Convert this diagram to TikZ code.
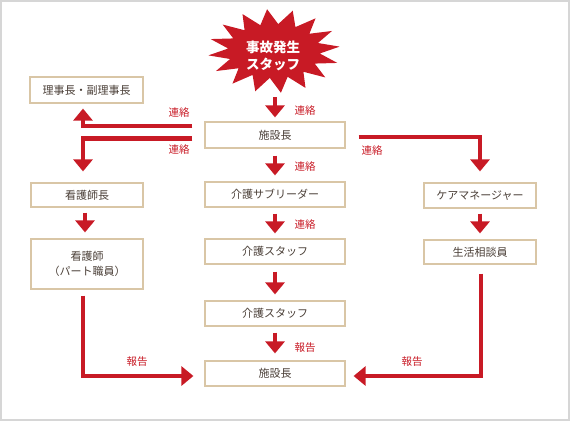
\documentclass[tikz,border=0pt]{standalone}
\usepackage{fontspec}
\setmainfont{Noto Sans CJK JP}
\usetikzlibrary{arrows.meta,calc}
\definecolor{acc}{HTML}{C81A25}
\definecolor{boxline}{HTML}{D9C6A6}
\definecolor{boxtext}{HTML}{4B4038}
\definecolor{frame}{HTML}{D6D6D6}
\tikzset{
  box/.style={draw=boxline, line width=1.2pt, fill=white, inner sep=0pt, text=boxtext,
    font=\fontsize{11}{15}\selectfont, align=center},
  arr/.style={draw=acc, line width=4.5pt, line join=miter, -{Triangle[width=19pt,length=12pt]}},
  lbl/.style={text=acc, font=\fontsize{10.5}{12}\selectfont, inner sep=0pt},
  startext/.style={text=white, font=\bfseries\fontsize{13.5}{16.5}\selectfont, align=center, inner sep=0pt}
}
\begin{document}
\begin{tikzpicture}[x=1pt,y=-1pt]
\useasboundingbox (0,0) rectangle (570,421);
\draw[frame, line width=2pt] (1,1) rectangle (569,420);

% burst
\fill[acc] plot[samples at={0,...,31}, variable=\k]
  ({274+ifthenelse(mod(\k,2)==0,66,46)*cos(\k*11.25+6)},
   {51-ifthenelse(mod(\k,2)==0,42,27)*sin(\k*11.25+6)}) -- cycle;
\node[startext] (star) at (273,56) {事故発生\\スタッフ};
\coordinate (starbot) at (275,97);

% boxes
\node[box, minimum width=113pt, minimum height=26pt] (rij) at (86.5,90) {理事長・副理事長};
\node[box, minimum width=140pt, minimum height=26pt] (top) at (275,135) {施設長};
\node[box, minimum width=140pt, minimum height=25pt] (sub) at (275,194.5) {介護サブリーダー};
\node[box, minimum width=140pt, minimum height=25pt] (st1) at (275,251.5) {介護スタッフ};
\node[box, minimum width=140pt, minimum height=25pt] (st2) at (275,313.5) {介護スタッフ};
\node[box, minimum width=140pt, minimum height=25pt] (bot) at (275,373.5) {施設長};
\node[box, minimum width=112pt, minimum height=24pt] (nh) at (87,195) {看護師長};
\node[box, minimum width=112pt, minimum height=50pt] (nu) at (87,264) {看護師\\（パート職員）};
\node[box, minimum width=112pt, minimum height=25pt] (cm) at (480,195.5) {ケアマネージャー};
\node[box, minimum width=112pt, minimum height=24pt] (sd) at (480,252) {生活相談員};

% vertical arrows
\draw[arr, shorten >=4pt] (starbot) -- (top.north);
\draw[arr, shorten <=7pt, shorten >=6pt] (top.south) -- (sub.north);
\draw[arr, shorten <=6pt, shorten >=5pt] (sub.south) -- (st1.north);
\draw[arr, shorten <=7pt, shorten >=6pt] (st1.south) -- (st2.north);
\draw[arr, shorten <=6pt, shorten >=7pt] (st2.south) -- (bot.north);
\draw[arr, shorten <=5pt, shorten >=6pt] ($(nh.south)+(-2,0)$) -- ($(nu.north)+(-2,0)$);
\draw[arr, shorten <=5pt, shorten >=6pt] (cm.south) -- (sd.north);

% L connectors
\draw[arr] ($(top.west)+(-12,-9)$) -| ($(rij.south)+(-3.5,5)$);
\draw[arr] ($(top.west)+(-12,3.5)$) -| ($(nh.north)+(-4,-11)$);
\draw[arr] ($(top.east)+(13,2)$) -| ($(cm.north)+(0,-11)$);
\draw[arr] ($(nu.south)+(-4,6)$) |- ($(bot.west)+(-11,2.5)$);
\draw[arr] ($(sd.south)+(1,9)$) |- ($(bot.east)+(8,2.5)$);

% labels
\node[lbl] (l1) at (305,111) {連絡};
\node[lbl] (l2) at (305,167) {連絡};
\node[lbl] (l3) at (305,225) {連絡};
\node[lbl] (l4) at (305,348) {報告};
\node[lbl] (l5) at (179,113) {連絡};
\node[lbl] (l6) at (179,150) {連絡};
\node[lbl] (l7) at (372,151) {連絡};
\node[lbl] (l8) at (137,362) {報告};
\node[lbl] (l9) at (412,362) {報告};
\end{tikzpicture}
\end{document}
